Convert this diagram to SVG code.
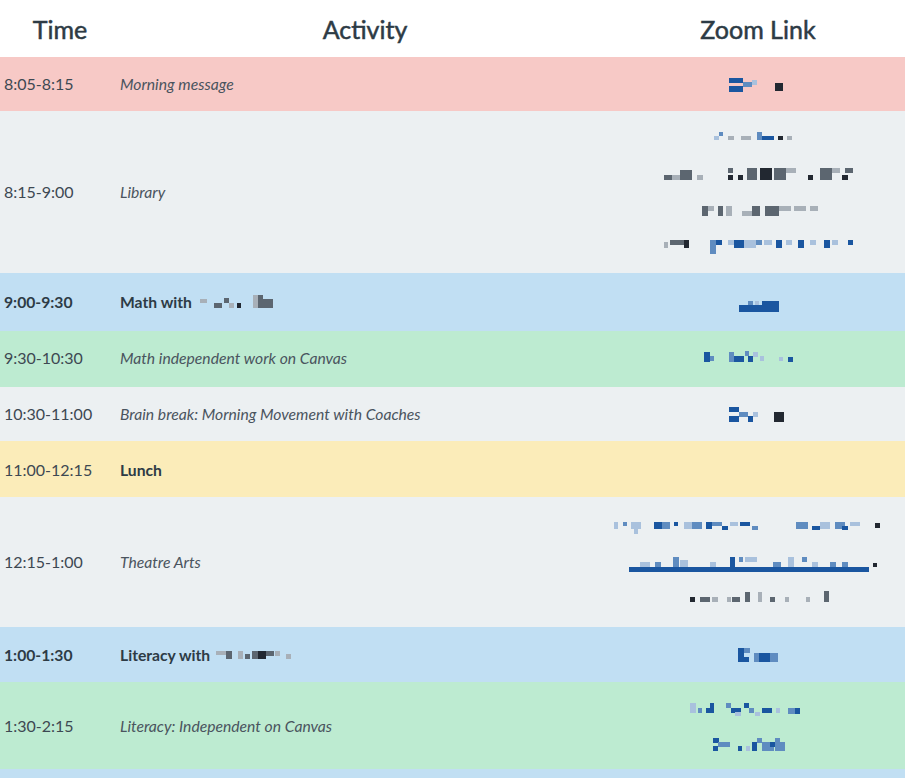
<svg xmlns="http://www.w3.org/2000/svg" width="907" height="778" viewBox="0 0 907 778">
<style>
.hdr{font-family:Lato,"Liberation Sans",sans-serif;font-size:25px;fill:#2d3b45;stroke:#2d3b45;stroke-width:0.5;text-anchor:middle}
.t{font-family:Lato,"Liberation Sans",sans-serif;font-size:16px;fill:#3d4852}
.a{font-family:Lato,"Liberation Sans",sans-serif;font-size:15.7px;fill:#4a545e;font-style:italic}
.b{font-family:Lato,"Liberation Sans",sans-serif;font-size:15.7px;fill:#2d3b45;font-weight:700}
.d{fill:#1a56a0}.m{fill:#5f8cc0}.l{fill:#a9c1dd}.k{fill:#222831}.g{fill:#5c6670}.q{fill:#a8b0b8}
</style>
<rect width="907" height="778" fill="#ffffff"/>
<g id="header">
<text class="hdr" x="60" y="39">Time</text>
<text class="hdr" x="365" y="39">Activity</text>
<text class="hdr" x="758" y="39">Zoom Link</text>
</g>
<g id="rows">
<g id="row1"><rect x="0" y="57" width="905" height="54" fill="#f7c9c6"/>
<text class="t" x="4" y="90">8:05-8:15</text><text class="a" x="120" y="90">Morning message</text>
<rect class="d" x="729" y="78" width="14" height="5"/><rect class="d" x="729" y="86" width="14" height="6"/><rect class="m" x="743" y="82" width="9" height="5"/><rect class="l" x="752" y="80" width="5" height="5"/><rect class="k" x="775" y="83" width="8" height="8"/>
</g>
<g id="row2"><rect x="0" y="111" width="905" height="162" fill="#ecf0f2"/>
<text class="t" x="4" y="198">8:15-9:00</text><text class="a" x="120" y="198">Library</text>
<rect class="l" x="714" y="136" width="5" height="4"/><rect class="m" x="719" y="132" width="4" height="4"/><rect class="q" x="728" y="136" width="6" height="4"/><rect class="q" x="741" y="136" width="10" height="4"/><rect class="m" x="757" y="132" width="5" height="8"/><rect class="d" x="762" y="136" width="12" height="4"/><rect class="k" x="778" y="136" width="5" height="4"/><rect class="q" x="787" y="136" width="5" height="4"/>
<rect class="g" x="664" y="175" width="8" height="5"/><rect class="q" x="672" y="175" width="8" height="5"/><rect class="g" x="680" y="170" width="12" height="10"/><rect class="q" x="697" y="175" width="6" height="5"/><rect class="k" x="728" y="175" width="5" height="5"/><rect class="g" x="728" y="168" width="5" height="5"/><rect class="k" x="738" y="175" width="5" height="5"/><rect class="g" x="747" y="168" width="10" height="12"/><rect class="k" x="760" y="168" width="12" height="12"/><rect class="g" x="774" y="168" width="12" height="12"/><rect class="q" x="786" y="168" width="10" height="5"/><rect class="k" x="808" y="175" width="5" height="5"/><rect class="g" x="820" y="168" width="12" height="12"/><rect class="q" x="832" y="168" width="8" height="5"/><rect class="k" x="842" y="175" width="6" height="5"/><rect class="g" x="845" y="168" width="8" height="5"/>
<rect class="g" x="702" y="206" width="6" height="10"/><rect class="q" x="708" y="206" width="6" height="5"/><rect class="g" x="718" y="206" width="5" height="10"/><rect class="q" x="726" y="206" width="6" height="10"/><rect class="q" x="742" y="211" width="10" height="5"/><rect class="g" x="752" y="206" width="8" height="10"/><rect class="g" x="765" y="206" width="14" height="10"/><rect class="q" x="779" y="206" width="12" height="5"/><rect class="q" x="794" y="206" width="12" height="5"/><rect class="q" x="810" y="206" width="8" height="5"/>
<rect class="q" x="664" y="242" width="4" height="6"/><rect class="g" x="670" y="240" width="14" height="5"/><rect class="k" x="684" y="240" width="5" height="8"/><rect class="m" x="710" y="240" width="6" height="14"/><rect class="d" x="716" y="240" width="6" height="5"/><rect class="l" x="728" y="240" width="6" height="5"/><rect class="d" x="734" y="240" width="10" height="8"/><rect class="l" x="744" y="240" width="12" height="8"/><rect class="m" x="756" y="240" width="6" height="5"/><rect class="l" x="764" y="240" width="8" height="5"/><rect class="d" x="776" y="240" width="6" height="8"/><rect class="l" x="786" y="240" width="6" height="5"/><rect class="d" x="798" y="240" width="6" height="8"/><rect class="l" x="810" y="240" width="6" height="5"/><rect class="d" x="824" y="240" width="6" height="8"/><rect class="l" x="832" y="240" width="6" height="5"/><rect class="d" x="848" y="240" width="5" height="5"/>
</g>
<g id="row3"><rect x="0" y="273" width="905" height="58" fill="#c1dff3"/>
<text class="b" x="4" y="308">9:00-9:30</text><text class="b" x="120" y="308">Math with</text>
<rect class="q" x="200" y="299" width="7" height="4"/><rect class="g" x="214" y="303" width="8" height="5"/><rect class="g" x="224" y="298" width="5" height="5"/><rect class="q" x="229" y="303" width="5" height="5"/><rect class="k" x="237" y="303" width="4" height="5"/><rect class="q" x="253" y="295" width="5" height="13"/><rect class="g" x="258" y="295" width="5" height="13"/><rect class="g" x="263" y="299" width="10" height="9"/>
<rect class="d" x="739" y="305" width="40" height="7"/><rect class="m" x="748" y="301" width="5" height="4"/><rect class="l" x="755" y="301" width="4" height="4"/><rect class="d" x="762" y="301" width="17" height="4"/>
</g>
<g id="row4"><rect x="0" y="331" width="905" height="56" fill="#bdebd1"/>
<text class="t" x="4" y="364">9:30-10:30</text><text class="a" x="120" y="364">Math independent work on Canvas</text>
<rect class="d" x="704" y="352" width="6" height="10"/><rect class="m" x="710" y="356" width="4" height="5"/><rect class="m" x="729" y="352" width="5" height="10"/><rect class="d" x="734" y="356" width="10" height="6"/><rect class="m" x="745" y="351" width="4" height="5"/><rect class="d" x="748" y="356" width="5" height="6"/><rect class="l" x="753" y="352" width="5" height="5"/><rect class="l" x="760" y="356" width="4" height="5"/><rect class="l" x="779" y="357" width="4" height="4"/><rect class="d" x="788" y="357" width="5" height="5"/>
</g>
<g id="row5"><rect x="0" y="387" width="905" height="54" fill="#ecf0f2"/>
<text class="t" x="4" y="420">10:30-11:00</text><text class="a" x="120" y="420">Brain break: Morning Movement with Coaches</text>
<rect class="d" x="729" y="407" width="10" height="5"/><rect class="d" x="729" y="416" width="10" height="6"/><rect class="m" x="739" y="412" width="9" height="5"/><rect class="d" x="748" y="416" width="5" height="6"/><rect class="l" x="753" y="412" width="5" height="5"/><rect class="k" x="774" y="412" width="10" height="10"/>
</g>
<g id="row6"><rect x="0" y="441" width="905" height="56" fill="#fbecb9"/>
<text class="t" x="4" y="476">11:00-12:15</text><text class="b" x="120" y="476">Lunch</text>
</g>
<g id="row7"><rect x="0" y="497" width="905" height="130" fill="#ecf0f2"/>
<text class="t" x="4" y="568">12:15-1:00</text><text class="a" x="120" y="568">Theatre Arts</text>
<rect class="l" x="614" y="522" width="4" height="7"/><rect class="m" x="623" y="522" width="4" height="4"/><rect class="l" x="631" y="522" width="10" height="7"/><rect class="l" x="634" y="529" width="4" height="5"/><rect class="d" x="654" y="522" width="8" height="7"/><rect class="m" x="662" y="522" width="8" height="7"/><rect class="d" x="674" y="522" width="4" height="4"/><rect class="l" x="684" y="522" width="8" height="7"/><rect class="m" x="692" y="522" width="10" height="7"/><rect class="d" x="706" y="522" width="6" height="7"/><rect class="m" x="712" y="522" width="10" height="4"/><rect class="d" x="722" y="526" width="6" height="4"/><rect class="l" x="730" y="522" width="8" height="4"/><rect class="d" x="740" y="522" width="10" height="4"/><rect class="m" x="752" y="526" width="6" height="4"/><rect class="m" x="796" y="522" width="12" height="7"/><rect class="d" x="812" y="526" width="8" height="4"/><rect class="l" x="820" y="522" width="10" height="7"/><rect class="m" x="835" y="522" width="10" height="7"/><rect class="d" x="842" y="526" width="6" height="4"/><rect class="l" x="850" y="522" width="10" height="4"/><rect class="k" x="875" y="523" width="5" height="5"/>
<rect class="d" x="629" y="567" width="240" height="5"/><rect class="l" x="640" y="562" width="10" height="5"/><rect class="m" x="655" y="562" width="6" height="5"/><rect class="m" x="673" y="557" width="6" height="10"/><rect class="l" x="680" y="560" width="8" height="7"/><rect class="l" x="710" y="562" width="6" height="5"/><rect class="d" x="730" y="557" width="5" height="10"/><rect class="m" x="739" y="557" width="4" height="5"/><rect class="l" x="745" y="557" width="12" height="5"/><rect class="m" x="773" y="562" width="8" height="5"/><rect class="l" x="788" y="557" width="6" height="10"/><rect class="m" x="802" y="557" width="5" height="5"/><rect class="l" x="812" y="562" width="6" height="5"/><rect class="m" x="830" y="562" width="6" height="5"/><rect class="m" x="842" y="562" width="6" height="5"/><rect class="k" x="873" y="563" width="4" height="4"/>
<rect class="k" x="690" y="597" width="5" height="5"/><rect class="g" x="700" y="597" width="10" height="5"/><rect class="q" x="712" y="597" width="6" height="5"/><rect class="q" x="727" y="597" width="4" height="5"/><rect class="g" x="732" y="597" width="8" height="5"/><rect class="g" x="745" y="592" width="5" height="10"/><rect class="q" x="758" y="592" width="4" height="10"/><rect class="g" x="770" y="597" width="5" height="5"/><rect class="q" x="785" y="597" width="4" height="5"/><rect class="q" x="806" y="597" width="4" height="5"/><rect class="g" x="824" y="591" width="5" height="11"/>
</g>
<g id="row8"><rect x="0" y="627" width="905" height="55" fill="#c1dff3"/>
<text class="b" x="4" y="661">1:00-1:30</text><text class="b" x="120" y="661">Literacy with</text>
<rect class="q" x="216" y="651" width="10" height="4"/><rect class="g" x="226" y="651" width="6" height="8"/><rect class="q" x="238" y="651" width="5" height="8"/><rect class="g" x="245" y="654" width="5" height="5"/><rect class="g" x="252" y="651" width="6" height="8"/><rect class="k" x="258" y="651" width="8" height="8"/><rect class="g" x="266" y="651" width="8" height="5"/><rect class="q" x="275" y="651" width="5" height="5"/><rect class="q" x="286" y="654" width="5" height="5"/>
<rect class="d" x="738" y="648" width="6" height="14"/><rect class="m" x="744" y="648" width="6" height="5"/><rect class="d" x="744" y="657" width="5" height="5"/><rect class="m" x="754" y="653" width="5" height="9"/><rect class="d" x="759" y="653" width="11" height="9"/><rect class="m" x="770" y="653" width="8" height="9"/>
</g>
<g id="row9"><rect x="0" y="682" width="905" height="87" fill="#bdebd1"/>
<text class="t" x="4" y="732">1:30-2:15</text><text class="a" x="120" y="732">Literacy: Independent on Canvas</text>
<rect class="l" x="690" y="703" width="6" height="10"/><rect class="m" x="698" y="708" width="4" height="5"/><rect class="d" x="706" y="708" width="4" height="5"/><rect class="d" x="710" y="703" width="4" height="10"/><rect class="m" x="726" y="703" width="5" height="5"/><rect class="d" x="731" y="708" width="10" height="5"/><rect class="l" x="735" y="712" width="6" height="4"/><rect class="d" x="744" y="703" width="5" height="5"/><rect class="m" x="749" y="708" width="5" height="5"/><rect class="l" x="755" y="712" width="5" height="4"/><rect class="d" x="762" y="708" width="10" height="5"/><rect class="l" x="776" y="708" width="4" height="5"/><rect class="m" x="788" y="708" width="12" height="6"/><rect class="d" x="795" y="708" width="5" height="6"/>
<rect class="d" x="713" y="738" width="6" height="5"/><rect class="d" x="713" y="746" width="5" height="5"/><rect class="m" x="718" y="742" width="12" height="5"/><rect class="d" x="738" y="746" width="4" height="5"/><rect class="l" x="746" y="746" width="4" height="5"/><rect class="d" x="752" y="742" width="5" height="9"/><rect class="m" x="757" y="738" width="5" height="5"/><rect class="m" x="762" y="742" width="12" height="9"/><rect class="d" x="770" y="742" width="5" height="5"/><rect class="m" x="775" y="738" width="5" height="13"/><rect class="m" x="780" y="742" width="5" height="9"/>
</g>
<g id="row10"><rect x="0" y="769" width="905" height="9" fill="#c1dff3"/></g>
</g>
</svg>
